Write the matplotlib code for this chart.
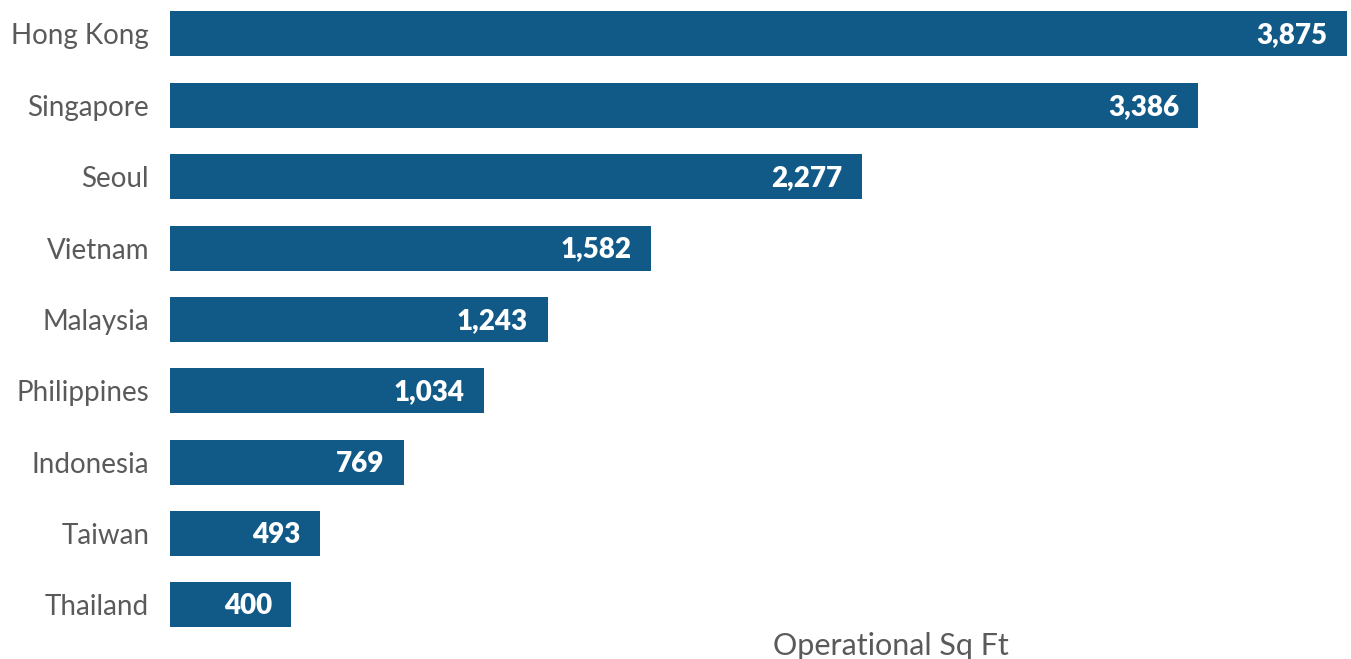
import matplotlib
matplotlib.use('Agg')
import matplotlib.pyplot as plt

# data
countries = ['Hong Kong', 'Singapore', 'Seoul', 'Vietnam', 'Malaysia',
             'Philippines', 'Indonesia', 'Taiwan', 'Thailand']
sq_ft = [3875, 3386, 2277, 1582, 1243, 1034, 769, 493, 400]

plt.rcParams['font.family'] = ['Lato', 'DejaVu Sans']

fig = plt.figure(figsize=(13.51, 6.59), dpi=100)
ax = fig.add_axes([170 / 1351, 0, (1347 - 170) / 1351, 1])

pos = list(range(len(countries)))
bars = ax.barh(pos, sq_ft, height=0.63, color='#115a88')

ax.set_xlim(0, max(sq_ft))
ax.set_ylim(8.757, -0.476)

ax.set_yticks(pos)
ax.set_yticklabels(countries, fontsize=20, color='#5a5a5a')
ax.tick_params(axis='y', length=0, pad=15)
ax.set_xticks([])
for s in ax.spines.values():
    s.set_visible(False)

# value labels inside the bar ends
for b, v in zip(bars, sq_ft):
    ax.annotate(f'{v:,}', xy=(b.get_width(), b.get_y() + b.get_height() / 2),
                xytext=(-14, -1), textcoords='offset points',
                ha='right', va='center', color='white',
                fontsize=20, fontweight='heavy')

fig.text(773 / 1351, 4 / 659, 'Operational Sq Ft', fontsize=22,
         color='#5a5a5a', ha='left', va='baseline')

fig.savefig('out.png', dpi=100)
